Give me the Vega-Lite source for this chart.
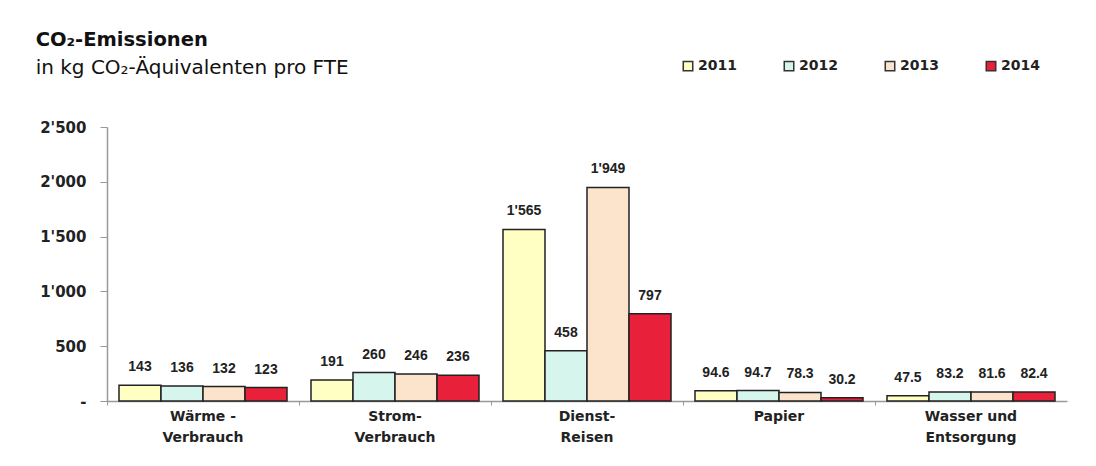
{
  "$schema": "https://vega.github.io/schema/vega-lite/v6.json",
  "width": 960,
  "height": 274,
  "padding": {"left": 35, "top": 30, "right": 5, "bottom": 5},
  "background": "white",
  "title": {
    "text": "CO₂-Emissionen",
    "subtitle": "in kg CO₂-Äquivalenten pro FTE",
    "anchor": "start",
    "frame": "bounds",
    "dx": -4,
    "offset": -19.5,
    "font": "DejaVu Sans",
    "fontSize": 19.5,
    "fontWeight": "bold",
    "color": "#111",
    "subtitleFont": "DejaVu Sans",
    "subtitleFontSize": 20,
    "subtitleColor": "#111",
    "subtitlePadding": 7
  },
  "data": {
    "values": [
      {"cat": "Wärme -\nVerbrauch", "year": "2011", "v": 143},
      {"cat": "Wärme -\nVerbrauch", "year": "2012", "v": 136},
      {"cat": "Wärme -\nVerbrauch", "year": "2013", "v": 132},
      {"cat": "Wärme -\nVerbrauch", "year": "2014", "v": 123},
      {"cat": "Strom-\nVerbrauch", "year": "2011", "v": 191},
      {"cat": "Strom-\nVerbrauch", "year": "2012", "v": 260},
      {"cat": "Strom-\nVerbrauch", "year": "2013", "v": 246},
      {"cat": "Strom-\nVerbrauch", "year": "2014", "v": 236},
      {"cat": "Dienst-\nReisen", "year": "2011", "v": 1565},
      {"cat": "Dienst-\nReisen", "year": "2012", "v": 458},
      {"cat": "Dienst-\nReisen", "year": "2013", "v": 1949},
      {"cat": "Dienst-\nReisen", "year": "2014", "v": 797},
      {"cat": "Papier", "year": "2011", "v": 94.6},
      {"cat": "Papier", "year": "2012", "v": 94.7},
      {"cat": "Papier", "year": "2013", "v": 78.3},
      {"cat": "Papier", "year": "2014", "v": 30.2},
      {"cat": "Wasser und\nEntsorgung", "year": "2011", "v": 47.5},
      {"cat": "Wasser und\nEntsorgung", "year": "2012", "v": 83.2},
      {"cat": "Wasser und\nEntsorgung", "year": "2013", "v": 81.6},
      {"cat": "Wasser und\nEntsorgung", "year": "2014", "v": 82.4}
    ]
  },
  "encoding": {
    "x": {
      "field": "cat",
      "type": "nominal",
      "sort": null,
      "title": null,
      "scale": {"paddingInner": 0, "paddingOuter": 0},
      "axis": {
        "labelAngle": 0,
        "labelExpr": "split(datum.label, '\\n')",
        "labelFont": "DejaVu Sans",
        "labelFontSize": 14,
        "labelFontWeight": "bold",
        "labelColor": "#222",
        "labelLineHeight": 21,
        "labelPadding": 4,
        "bandPosition": 0,
        "domainColor": "#999",
        "domainWidth": 1.5,
        "tickColor": "#999",
        "tickSize": 4,
        "labelLimit": 200
      }
    },
    "xOffset": {
      "field": "year",
      "type": "nominal",
      "scale": {"paddingInner": 0, "paddingOuter": 0.2857}
    },
    "y": {
      "field": "v",
      "type": "quantitative",
      "title": null,
      "scale": {"domain": [0, 2500], "nice": false},
      "axis": {
        "values": [0, 500, 1000, 1500, 2000, 2500],
        "format": ",d",
        "labelExpr": "datum.value == 0 ? '-' : datum.label",
        "grid": false,
        "labelFont": "DejaVu Sans",
        "labelFontSize": 15,
        "labelFontWeight": "bold",
        "labelColor": "#222",
        "labelPadding": 14,
        "tickSize": 7,
        "tickColor": "#999",
        "domainColor": "#999",
        "domainWidth": 1.5
      }
    }
  },
  "layer": [
    {
      "mark": {"type": "bar", "stroke": "#222", "strokeWidth": 1.5},
      "encoding": {
        "color": {
          "field": "year",
          "type": "nominal",
          "title": null,
          "scale": {"domain": ["2011", "2012", "2013", "2014"], "range": ["#FFFFC4", "#D6F5EC", "#FBE3CC", "#E8203A"]},
          "legend": {
            "orient": "none",
            "legendX": 574,
            "legendY": -68,
            "direction": "horizontal",
            "columns": 4,
            "columnPadding": 44,
            "padding": 0,
            "symbolType": "square",
            "symbolSize": 90,
            "symbolStrokeColor": "#333",
            "symbolStrokeWidth": 1.5,
            "labelFont": "DejaVu Sans",
            "labelFontSize": 14,
            "labelFontWeight": "bold",
            "labelColor": "#222",
            "labelOffset": 3
          }
        }
      }
    },
    {
      "mark": {"type": "text", "baseline": "bottom", "dy": -11, "font": "Liberation Sans", "fontSize": 14, "fontWeight": "bold", "color": "#222"},
      "encoding": {
        "text": {"field": "v", "type": "quantitative", "format": ",~f"}
      }
    }
  ],
  "config": {
    "locale": {"number": {"decimal": ".", "thousands": "'", "grouping": [3], "currency": ["", ""]}},
    "view": {"stroke": null}
  }
}
